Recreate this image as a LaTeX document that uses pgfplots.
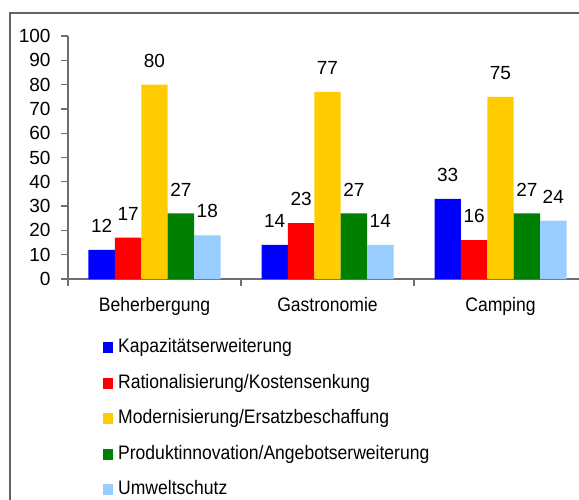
\documentclass[border=0pt]{standalone}
\usepackage{fontspec}
\setmainfont{Liberation Sans}
\newfontfamily\condfont{Liberation Sans}[FakeStretch=0.9]
\usepackage{pgfplots}
\pgfplotsset{compat=1.18}
\definecolor{kap}{HTML}{0000FF}
\definecolor{rat}{HTML}{FF0000}
\definecolor{mod}{HTML}{FFCC00}
\definecolor{pro}{HTML}{008000}
\definecolor{umw}{HTML}{99CCFF}
\definecolor{axgray}{HTML}{6E6E6E}
\newcommand\numfont{\fontsize{19}{21}\selectfont}
\newcommand\txtfont{\condfont\fontsize{19.5}{21}\selectfont}
\pgfplotsset{sq/.style={draw=none, legend image code/.code={\fill (0pt,-5.5pt) rectangle (10pt,5.5pt);}}}

\begin{document}
\begin{tikzpicture}
\draw[line width=1.5pt, color=axgray!90!black] (10pt,-13pt) rectangle (700pt,-700pt);
\begin{axis}[at={(68pt,-279pt)}, anchor=south west, scale only axis,
  width=519pt, height=243pt,
  ybar=0pt, bar width=26.4pt,
  xmin=-0.5, xmax=2.5, ymin=0, ymax=100,
  xtick={0,1,2}, xticklabels={Beherbergung,Gastronomie,Camping},
  minor xtick={-0.5,0.5,1.5,2.5},
  ytick={0,10,...,100},
  axis x line*=bottom, axis y line*=left,
  axis line style={line width=1.3pt, color=axgray},
  tick align=outside, major tick length=7pt, minor tick length=7pt,
  tick style={line width=1.3pt, color=axgray},
  major x tick style={draw=none},
  /pgf/number format/assume math mode=true,
  yticklabel style={font=\numfont, xshift=-7pt},
  xticklabel style={font=\txtfont, yshift=-8pt},
  nodes near coords,
  nodes near coords style={font=\numfont, anchor=center, yshift=24pt, color=black},
  legend style={at={(0.0674,-0.247)}, anchor=north west, draw=none, fill=none,
    font=\txtfont, row sep=18.5pt, inner sep=0pt,
    nodes={inner sep=0pt, text height=13.5pt, text depth=3.5pt},
    /tikz/every odd column/.append style={column sep=5pt}},
  legend cell align=left,
]
\addplot[sq, fill=kap] coordinates {(0,12) (1,14) (2,33)};
\addplot[sq, fill=rat] coordinates {(0,17) (1,23) (2,16)};
\addplot[sq, fill=mod] coordinates {(0,80) (1,77) (2,75)};
\addplot[sq, fill=pro] coordinates {(0,27) (1,27) (2,27)};
\addplot[sq, fill=umw] coordinates {(0,18) (1,14) (2,24)};
\legend{Kapazitätserweiterung,Rationalisierung/Kostensenkung,Modernisierung/Ersatzbeschaffung,Produktinnovation/Angebotserweiterung,Umweltschutz}
\end{axis}
\pgfresetboundingbox
\path[use as bounding box] (0pt,0pt) rectangle (579pt,-499pt);
\end{tikzpicture}
\end{document}
